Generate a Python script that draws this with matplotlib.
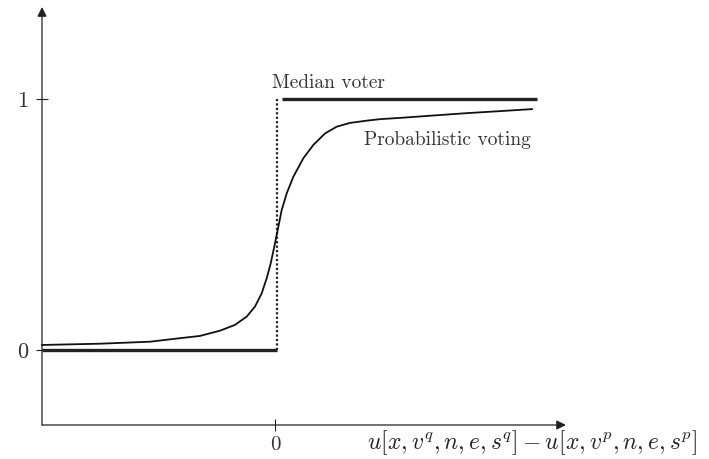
import matplotlib

matplotlib.use("Agg")
import matplotlib.pyplot as plt

plt.rcParams["font.family"] = "serif"
plt.rcParams["font.serif"] = ["cmr10", "DejaVu Serif"]
plt.rcParams["mathtext.fontset"] = "cm"
plt.rcParams["axes.formatter.use_mathtext"] = True

# 概率投票曲线（从图上逐点读取）
prob_x = [-2.33, -1.75, -1.25, -0.95, -0.75, -0.55, -0.40, -0.283, -0.20,
          -0.133, -0.083, -0.043, -0.007, 0.027, 0.067, 0.117, 0.183, 0.283,
          0.383, 0.50, 0.617, 0.75, 0.917, 1.05, 1.25, 1.6, 1.92, 2.25, 2.57]
prob_y = [0.020, 0.025, 0.033, 0.047, 0.056, 0.077, 0.100, 0.133, 0.173,
          0.226, 0.286, 0.345, 0.412, 0.478, 0.558, 0.624, 0.690, 0.764,
          0.817, 0.863, 0.890, 0.905, 0.914, 0.920, 0.925, 0.935, 0.944,
          0.952, 0.960]

# 中位选民：阶跃函数
median_left_x = [-2.33, 0.02]
median_left_y = [0, 0]
median_right_x = [0.07, 2.62]
median_right_y = [1, 1]
median_jump_x = [0.02, 0.02]
median_jump_y = [0, 1]

x_ticks = [0]
x_tick_labels = ["0"]
y_ticks = [0, 1]
y_tick_labels = ["0", "1"]

x_min, x_max = -2.33, 2.91
y_min, y_max = -0.299, 1.367

fig = plt.figure(figsize=(7.09, 4.59), dpi=100)
ax = fig.add_axes([42 / 709, 34 / 459, (566 - 42) / 709, (425 - 7) / 459])
ax.set_xlim(x_min, x_max)
ax.set_ylim(y_min, y_max)

for s in ax.spines.values():
    s.set_visible(False)

# 坐标轴箭头
arrow = dict(arrowstyle="-|>", color="#222222", lw=0.9, mutation_scale=14,
             shrinkA=0, shrinkB=0)
ax.annotate("", xy=(x_max, y_min), xytext=(x_min, y_min), arrowprops=arrow,
            annotation_clip=False)
ax.annotate("", xy=(x_min, y_max), xytext=(x_min, y_min), arrowprops=arrow,
            annotation_clip=False)

ax.set_xticks(x_ticks)
ax.set_xticklabels(x_tick_labels, fontsize=15)
ax.set_yticks(y_ticks)
ax.set_yticklabels(y_tick_labels, fontsize=16)
ax.tick_params(axis="both", direction="inout", length=8, width=0.8,
               color="#222222", labelcolor="#333333")
ax.tick_params(axis="x", pad=4)
ax.tick_params(axis="y", pad=6)

ax.plot(median_left_x, median_left_y, color="#222222", lw=2.4,
        solid_capstyle="butt", clip_on=False)
ax.plot(median_right_x, median_right_y, color="#222222", lw=2.4,
        solid_capstyle="butt")
ax.plot(median_jump_x, median_jump_y, color="#222222", lw=1.6,
        linestyle=(0, (1, 1)))
ax.plot(prob_x, prob_y, color="#111111", lw=1.3, clip_on=False,
        solid_joinstyle="round")

ax.text(0.53, 1.044, "Median voter", fontsize=14, ha="center", va="baseline",
        color="#333333")
ax.text(1.72, 0.817, "Probabilistic voting", fontsize=14, ha="center",
        va="baseline", color="#333333")
ax.text(2.57, -0.37, r"$u[x,v^q,n,e,s^q]-u[x,v^p,n,e,s^p]$", fontsize=17,
        ha="center", va="center", color="#222222", clip_on=False)

fig.savefig("out.png", dpi=100)
